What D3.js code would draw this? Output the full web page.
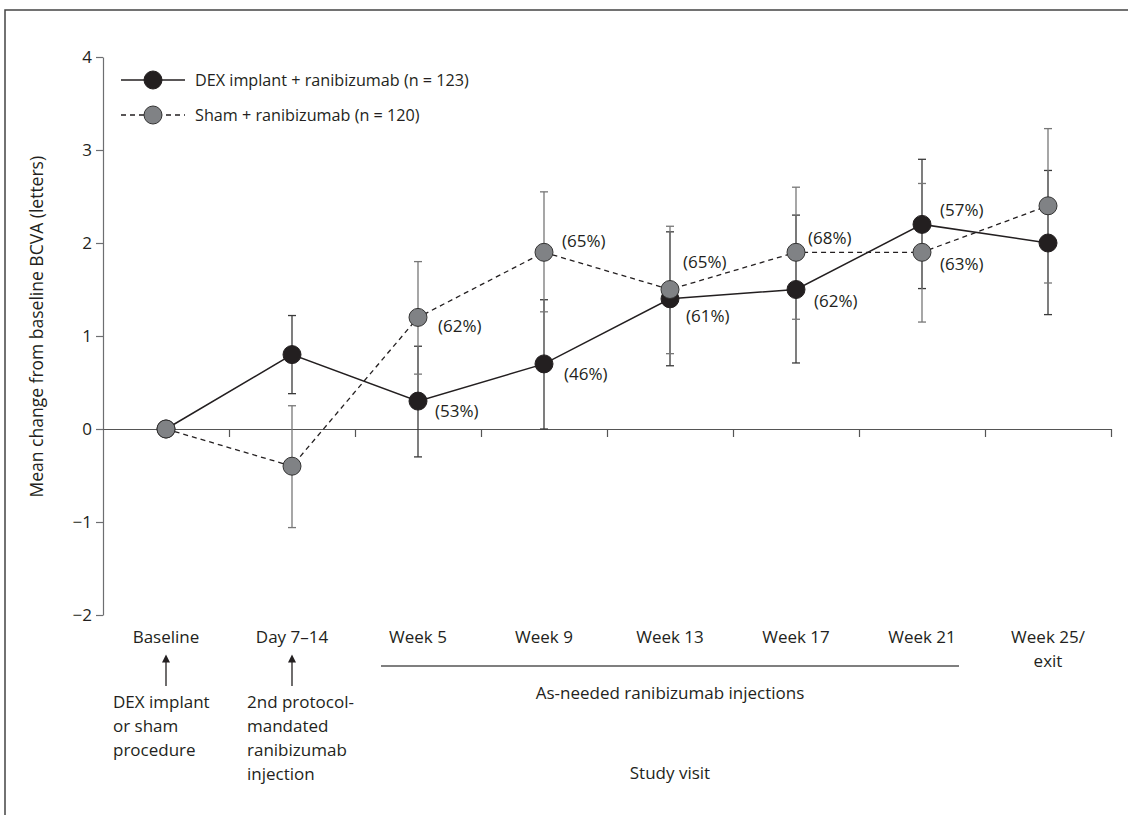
<!DOCTYPE html>
<html>
<head>
<meta charset="utf-8">
<script src="https://cdn.jsdelivr.net/npm/d3@7"></script>
<style>
  body { margin: 0; background: #fff; }
  svg { display: block; font-family: "Open Sans", "Noto Sans", sans-serif; }
  text { fill: #231f20; }
</style>
</head>
<body>
<svg width="1128" height="815"></svg>
<script>
// Visits on the x axis
const visits = ['Baseline', 'Day 7–14', 'Week 5', 'Week 9', 'Week 13', 'Week 17', 'Week 21', 'Week 25/|exit'];

// DEX implant + ranibizumab
const dexMean = [0, 0.8, 0.3, 0.7, 1.4, 1.5, 2.2, 2.0];
const dexUpper = [0, 1.22, 0.89, 1.39, 2.12, 2.30, 2.90, 2.78];
const dexLower = [0, 0.38, -0.30, 0.0, 0.68, 0.71, 1.51, 1.23];
const dexPct = [null, null, '(53%)', '(46%)', '(61%)', '(62%)', '(57%)', null];

// Sham + ranibizumab
const shamMean = [0, -0.4, 1.2, 1.9, 1.5, 1.9, 1.9, 2.4];
const shamUpper = [0, 0.25, 1.80, 2.55, 2.18, 2.60, 2.64, 3.23];
const shamLower = [0, -1.06, 0.59, 1.26, 0.81, 1.18, 1.15, 1.57];
const shamPct = [null, null, '(62%)', '(65%)', '(65%)', '(68%)', '(63%)', null];

const yTicks = [-2, -1, 0, 1, 2, 3, 4];
const legendLabels = ['DEX implant + ranibizumab (n = 123)', 'Sham + ranibizumab (n = 120)'];

// label nudges (px) so the percentages sit beside their markers
const dexPctOffset = [null, null, [17, 10], [20, 10], [16, 17], [18, 12], [18, -14], null];
const shamPctOffset = [null, null, [20, 9], [18, -11], [13, -27], [12, -14], [18, 12], null];

const svg = d3.select("svg");
const margin = { top: 57, left: 103 };
const width = 1008, height = 558;
const black = "#231f20", grey = "#808285", axisGrey = "#6d6e71";

// outer frame
svg.append("rect")
    .attr("x", 5).attr("y", 10)
    .attr("width", 1200).attr("height", 900)
    .attr("fill", "none").attr("stroke", "#444").attr("stroke-width", 1.5);

const g = svg.append("g").attr("transform", `translate(${margin.left},${margin.top})`);

const x = d3.scaleLinear().domain([0, visits.length]).range([0, width]);
const y = d3.scaleLinear().domain([-2, 4]).range([height, 0]);
const cx = i => x(i + 0.5);

// y axis
const yAxis = g.append("g")
    .call(d3.axisLeft(y).tickValues(yTicks).tickSize(7).tickSizeOuter(0)
        .tickFormat(d => d < 0 ? "\u2212" + Math.abs(d) : d));
yAxis.select(".domain").attr("stroke", axisGrey).attr("stroke-width", 1.2);
yAxis.selectAll(".tick line").attr("stroke", axisGrey).attr("stroke-width", 1.2);
yAxis.selectAll(".tick text").attr("font-size", 17).attr("fill", black)
    .attr("font-family", "'Open Sans', sans-serif").attr("x", -11);

// x axis at y = 0
const xAxis = g.append("g")
    .attr("transform", `translate(0,${y(0)})`)
    .call(d3.axisBottom(x).tickValues(d3.range(1, visits.length + 1)).tickSize(8)
        .tickSizeOuter(0).tickFormat(""));
xAxis.select(".domain").attr("stroke", "#555").attr("stroke-width", 1.2);
xAxis.selectAll(".tick line").attr("stroke", "#555").attr("stroke-width", 1.2);

// y axis title
g.append("text")
    .attr("transform", "rotate(-90)")
    .attr("x", -(y(1.1)))
    .attr("y", -60)
    .attr("text-anchor", "middle")
    .attr("font-size", 17.5)
    .text("Mean change from baseline BCVA (letters)");

// lines
const line = vals => d3.line().x((d, i) => cx(i)).y(d => y(d))(vals);
g.append("path").attr("d", line(shamMean))
    .attr("fill", "none").attr("stroke", black).attr("stroke-width", 1.3)
    .attr("stroke-dasharray", "5,4");
g.append("path").attr("d", line(dexMean))
    .attr("fill", "none").attr("stroke", black).attr("stroke-width", 1.5);

// error bars
function errorBars(upper, lower, color) {
    const idx = d3.range(1, visits.length);
    const eb = g.append("g").attr("stroke", color).attr("stroke-width", 1.3);
    eb.selectAll(".stem").data(idx).join("line")
        .attr("x1", cx).attr("x2", cx)
        .attr("y1", i => y(upper[i])).attr("y2", i => y(lower[i]));
    eb.selectAll(".capU").data(idx).join("line")
        .attr("x1", i => cx(i) - 4).attr("x2", i => cx(i) + 4)
        .attr("y1", i => y(upper[i])).attr("y2", i => y(upper[i]));
    eb.selectAll(".capL").data(idx).join("line")
        .attr("x1", i => cx(i) - 4).attr("x2", i => cx(i) + 4)
        .attr("y1", i => y(lower[i])).attr("y2", i => y(lower[i]));
}
errorBars(dexUpper, dexLower, "#3a3a3a");
errorBars(shamUpper, shamLower, "#777");

// markers
g.selectAll(".dex").data(dexMean).join("circle")
    .attr("cx", (d, i) => cx(i)).attr("cy", d => y(d)).attr("r", 9)
    .attr("fill", black).attr("stroke", black);
g.selectAll(".sham").data(shamMean).join("circle")
    .attr("cx", (d, i) => cx(i)).attr("cy", d => y(d)).attr("r", 9)
    .attr("fill", grey).attr("stroke", "#333").attr("stroke-width", 1);

// percentage labels
function pctLabels(vals, pct, off) {
    g.selectAll(null).data(d3.range(visits.length).filter(i => pct[i])).join("text")
        .attr("x", i => cx(i) + off[i][0])
        .attr("y", i => y(vals[i]) + off[i][1])
        .attr("dy", "0.35em")
        .attr("font-size", 17)
        .text(i => pct[i]);
}
pctLabels(dexMean, dexPct, dexPctOffset);
pctLabels(shamMean, shamPct, shamPctOffset);

// legend
const legend = svg.append("g").attr("transform", "translate(121,80)");
[0, 1].forEach(k => {
    const row = legend.append("g").attr("transform", `translate(0,${k * 35})`);
    row.append("line").attr("x1", 0).attr("x2", 64)
        .attr("stroke", black).attr("stroke-width", k ? 1.3 : 1.5)
        .attr("stroke-dasharray", k ? "5,4" : null);
    row.append("circle").attr("cx", 32).attr("r", 9)
        .attr("fill", k ? grey : black).attr("stroke", k ? "#333" : black);
    row.append("text").attr("x", 74).attr("dy", "0.35em")
        .attr("font-size", 16.2).text(legendLabels[k]);
});

// visit labels under the plot
const labelY = 637;
visits.forEach((v, i) => {
    const t = svg.append("text")
        .attr("x", margin.left + cx(i)).attr("y", labelY)
        .attr("text-anchor", "middle").attr("font-size", 17);
    v.split("|").forEach((s, j) => {
        t.append("tspan").attr("x", margin.left + cx(i))
            .attr("dy", j ? 24 : "0.35em").text(s);
    });
});

// arrows for baseline and day 7–14
svg.append("defs").append("marker")
    .attr("id", "arrow").attr("viewBox", "0 0 10 10")
    .attr("refX", 2).attr("refY", 5)
    .attr("markerWidth", 11).attr("markerHeight", 8).attr("markerUnits", "userSpaceOnUse")
    .attr("orient", "auto")
    .append("path").attr("d", "M0,0 L10,5 L0,10 Z").attr("fill", black);
[0, 1].forEach(i => {
    svg.append("line")
        .attr("x1", margin.left + cx(i)).attr("x2", margin.left + cx(i))
        .attr("y1", 686).attr("y2", 661)
        .attr("stroke", black).attr("stroke-width", 1.3)
        .attr("marker-end", "url(#arrow)");
});

// notes under the arrows
const notes = [
    { x: 113, lines: ['DEX implant', 'or sham', 'procedure'] },
    { x: 247, lines: ['2nd protocol-', 'mandated', 'ranibizumab', 'injection'] }
];
notes.forEach(n => {
    const t = svg.append("text").attr("x", n.x).attr("y", 702).attr("font-size", 17);
    n.lines.forEach((s, j) => {
        t.append("tspan").attr("x", n.x).attr("dy", j ? 24 : "0.35em").text(s);
    });
});

// as-needed injections bracket
svg.append("line")
    .attr("x1", margin.left + x(2) + 26).attr("x2", margin.left + x(7) - 26)
    .attr("y1", 666).attr("y2", 666)
    .attr("stroke", "#555").attr("stroke-width", 1.3);
svg.append("text")
    .attr("x", margin.left + cx(4)).attr("y", 693).attr("dy", "0.35em")
    .attr("text-anchor", "middle").attr("font-size", 17)
    .text("As-needed ranibizumab injections");

svg.append("text")
    .attr("x", margin.left + cx(4)).attr("y", 773).attr("dy", "0.35em")
    .attr("text-anchor", "middle").attr("font-size", 17)
    .text("Study visit");
</script>
</body>
</html>
